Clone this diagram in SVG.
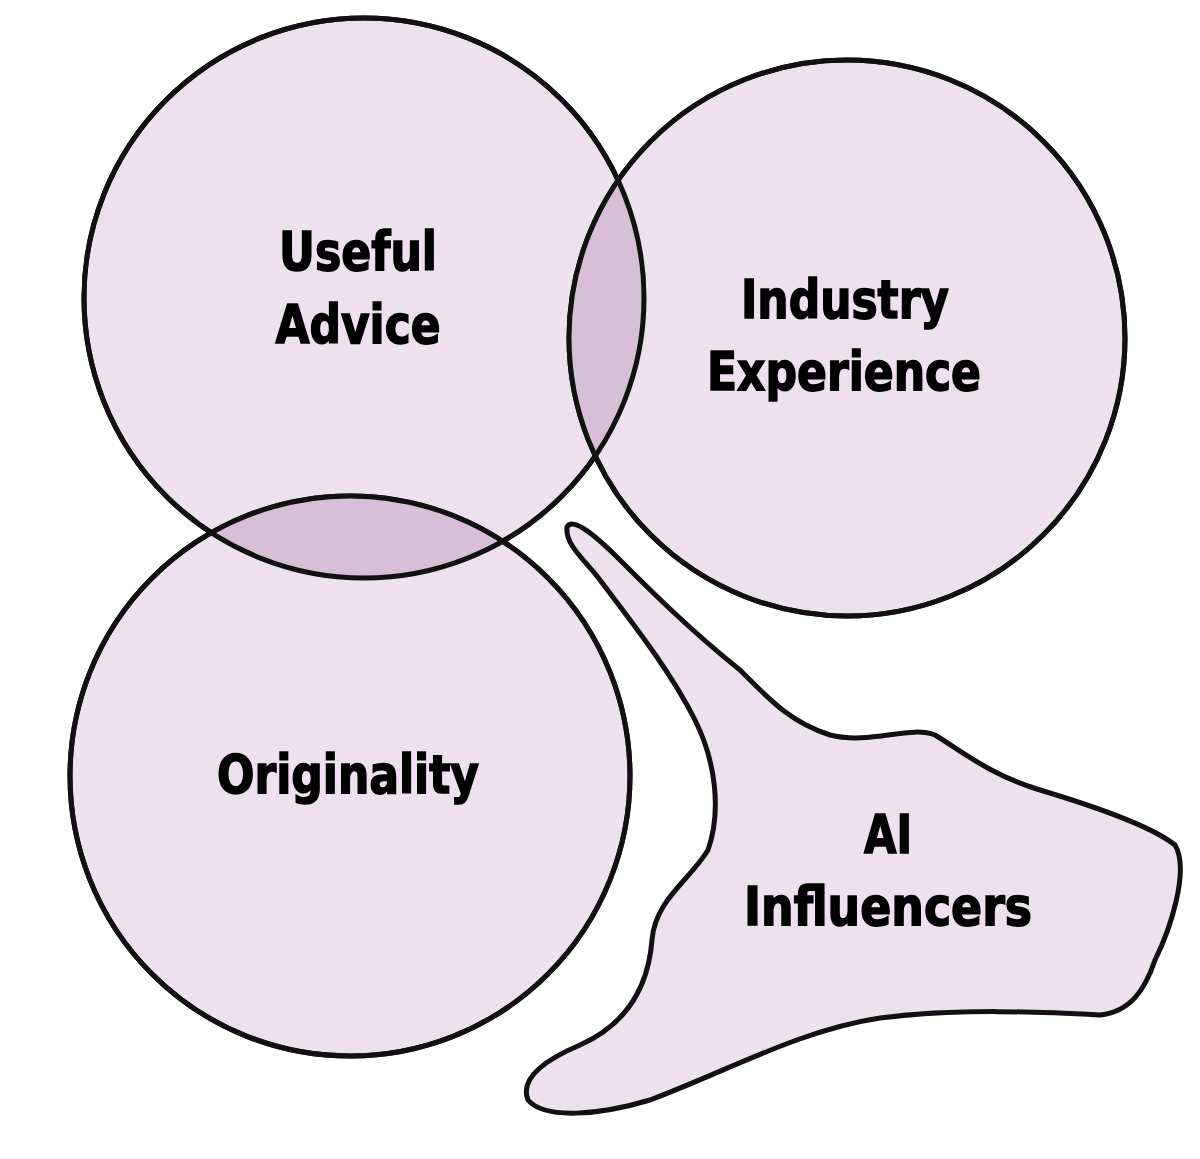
<svg xmlns="http://www.w3.org/2000/svg" width="1200" height="1159" viewBox="0 0 1200 1159">
<style>
.c{fill:#efe0ef;stroke:#111;stroke-width:5}
.l{fill:#d8bfd8}
.o{fill:none;stroke:#111;stroke-width:5}
text{font-family:"DejaVu Sans Condensed","Liberation Sans",sans-serif;font-weight:bold;font-size:54px;fill:#000;text-anchor:middle;stroke:#000;stroke-width:1.5}
</style>
<defs>
<clipPath id="cA"><circle cx="364" cy="298" r="280"/></clipPath>
</defs>
<rect width="1200" height="1159" fill="#fff"/>
<g id="useful"><circle class="c" cx="364" cy="298" r="280"/></g>
<g id="industry"><circle class="c" cx="847" cy="338" r="278"/></g>
<g id="originality"><circle class="c" cx="350" cy="776" r="280"/></g>
<g id="lenses" clip-path="url(#cA)">
<circle class="l" cx="847" cy="338" r="278"/>
<circle class="l" cx="350" cy="776" r="280"/>
</g>
<g id="outlines">
<circle class="o" cx="364" cy="298" r="280"/>
<circle class="o" cx="847" cy="338" r="278"/>
<circle class="o" cx="350" cy="776" r="280"/>
</g>
<g id="ai">
<path class="c" d="M567,527 C572,518 590,530 620,560 C650,590 690,630 740,670 C770,700 790,722 830,735 C870,745 910,725 935,735 C960,750 990,775 1040,790 C1090,805 1150,825 1175,845 C1190,870 1170,930 1155,960 C1145,990 1130,1012 1100,1015 C1040,1012 960,1008 880,1018 C800,1030 730,1070 650,1100 C600,1115 545,1120 528,1100 C520,1080 540,1062 580,1045 C625,1025 648,990 652,940 C655,900 690,880 708,850 C722,810 715,760 695,720 C670,670 630,620 600,580 C585,560 565,545 567,527 Z"/>
</g>
<g id="labels">
<text x="358" y="270" textLength="158" lengthAdjust="spacingAndGlyphs">Useful</text>
<text x="358" y="343" textLength="165" lengthAdjust="spacingAndGlyphs">Advice</text>
<text x="845" y="318" textLength="208" lengthAdjust="spacingAndGlyphs">Industry</text>
<text x="844" y="390" textLength="274" lengthAdjust="spacingAndGlyphs">Experience</text>
<text x="348" y="793" textLength="262" lengthAdjust="spacingAndGlyphs">Originality</text>
<text x="888" y="853" textLength="48" lengthAdjust="spacingAndGlyphs">AI</text>
<text x="888" y="925" textLength="288" lengthAdjust="spacingAndGlyphs">Influencers</text>
</g>
</svg>
